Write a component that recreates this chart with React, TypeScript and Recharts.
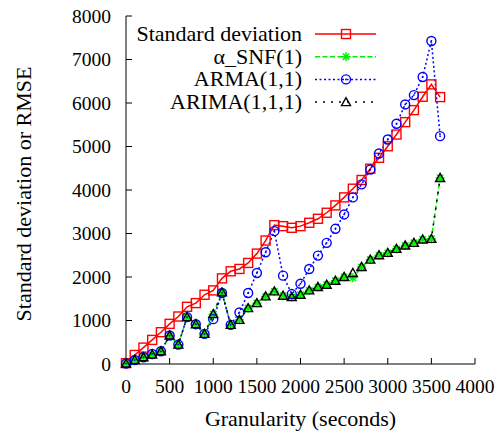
import { LineChart, Line, XAxis, YAxis, Legend } from 'recharts';

// Granularity (seconds) on the x axis
const granularity = [0, 100, 200, 300, 400, 500, 600, 700, 800, 900, 1000, 1100, 1200, 1300, 1400, 1500, 1600, 1700, 1800, 1900, 2000, 2100, 2200, 2300, 2400, 2500, 2600, 2700, 2800, 2900, 3000, 3100, 3200, 3300, 3400, 3500, 3600];

const stdDev = [20, 208, 377, 554, 731, 923, 1092, 1315, 1400, 1592, 1692, 1969, 2131, 2185, 2323, 2538, 2838, 3192, 3169, 3131, 3169, 3246, 3338, 3477, 3646, 3830, 4030, 4230, 4490, 4740, 5005, 5275, 5560, 5836, 6144, 6428, 6136];
const alphaSnf = [10, 92, 154, 215, 292, 654, 446, 1077, 915, 692, 1146, 1646, 900, 1015, 1285, 1400, 1554, 1669, 1569, 1538, 1592, 1692, 1769, 1823, 1915, 2000, 1980, 2231, 2400, 2500, 2554, 2646, 2723, 2785, 2862, 2877, 4277];
const arma = [10, 92, 154, 231, 292, 654, 446, 1077, 915, 692, 1031, 1631, 900, 1185, 1631, 2092, 2569, 3054, 2031, 1608, 1846, 2185, 2492, 2785, 3108, 3438, 3830, 4130, 4470, 4838, 5161, 5522, 5967, 6182, 6597, 7426, 5238];
const arima = [10, 92, 154, 215, 292, 654, 446, 1077, 915, 692, 1146, 1646, 900, 1015, 1285, 1400, 1554, 1669, 1569, 1538, 1592, 1692, 1769, 1823, 1915, 2000, 2092, 2231, 2400, 2500, 2554, 2646, 2723, 2785, 2862, 2877, 4277];

const xTicks = [0, 500, 1000, 1500, 2000, 2500, 3000, 3500, 4000];
const yTicks = [0, 1000, 2000, 3000, 4000, 5000, 6000, 7000, 8000];

const seriesNames = ['Standard deviation', 'α_SNF(1)', 'ARMA(1,1)', 'ARIMA(1,1,1)'];
const xLabel = 'Granularity (seconds)';
const yLabel = 'Standard deviation or RMSE';

const data = granularity.map((g, i) => ({
  g,
  std: stdDev[i],
  snf: alphaSnf[i],
  arma: arma[i],
  arima: arima[i],
}));

const FONT = 'Liberation Serif, serif';
const FS = 22;
const TICK_FS = 19.5;
const RED = '#ff0000';
const GREEN = '#00ee00';
const BLUE = '#0000ff';

// point markers (gnuplot style)
const Square = ({ cx, cy }: any) => (
  <rect x={cx - 4.5} y={cy - 4.5} width={9} height={9} fill="none" stroke={RED} strokeWidth={1.4} />
);
const Star = ({ cx, cy }: any) => (
  <g stroke={GREEN} strokeWidth={1.5}>
    <line x1={cx - 4.5} y1={cy} x2={cx + 4.5} y2={cy} />
    <line x1={cx} y1={cy - 4.5} x2={cx} y2={cy + 4.5} />
    <line x1={cx - 3.2} y1={cy - 3.2} x2={cx + 3.2} y2={cy + 3.2} />
    <line x1={cx - 3.2} y1={cy + 3.2} x2={cx + 3.2} y2={cy - 3.2} />
  </g>
);
const Circle = ({ cx, cy }: any) => (
  <g>
    <circle cx={cx} cy={cy} r={4.5} fill="none" stroke={BLUE} strokeWidth={1.4} />
    <circle cx={cx} cy={cy} r={0.9} fill={BLUE} />
  </g>
);
const Triangle = ({ cx, cy }: any) => (
  <path d={`M${cx - 4.5},${cy + 3.5} L${cx + 4.5},${cy + 3.5} L${cx},${cy - 4.5} Z`} fill="none" stroke="#000" strokeWidth={1.4} />
);

const dotOf = (Shape: any) => (props: any) => <Shape key={`d-${props.index}`} cx={props.cx} cy={props.cy} />;

// tick texts drawn by hand so the serif font sticks
const XTick = ({ x, y, payload }: any) => (
  <text x={x} y={y} dy={TICK_FS * 0.71} textAnchor="middle" style={{ fontFamily: FONT, fontSize: TICK_FS }} fill="#000">
    {payload.value}
  </text>
);
const YTick = ({ x, y, payload }: any) => (
  <text x={x} y={y} dy={TICK_FS * 0.34} textAnchor="end" style={{ fontFamily: FONT, fontSize: TICK_FS }} fill="#000">
    {payload.value}
  </text>
);
const XLabel = ({ viewBox }: any) => (
  <text x={viewBox.x + viewBox.width / 2} y={viewBox.y + viewBox.height - 6} textAnchor="middle" style={{ fontFamily: FONT, fontSize: FS }} fill="#000">
    {xLabel}
  </text>
);
const YLabel = ({ viewBox }: any) => {
  const cx = 31;
  const cy = viewBox.y + viewBox.height / 2 + 4;
  return (
    <text x={cx} y={cy} transform={`rotate(-90, ${cx}, ${cy})`} textAnchor="middle" style={{ fontFamily: FONT, fontSize: FS }} fill="#000">
      {yLabel}
    </text>
  );
};

const legendRows = [
  { name: seriesNames[0], color: RED, dash: undefined, width: 1.5, Shape: Square },
  { name: seriesNames[1], color: GREEN, dash: '5 2.5', width: 1.5, Shape: Star },
  { name: seriesNames[2], color: BLUE, dash: '2 2.5', width: 1.5, Shape: Circle },
  { name: seriesNames[3], color: '#000', dash: '2 6', width: 1.5, Shape: Triangle },
];

const KeyBox = () => (
  <svg width={270} height={100} style={{ display: 'block' }}>
    {legendRows.map((r, i) => {
      const y = 14 + i * 22.7;
      return (
        <g key={r.name}>
          <text x={182} y={y + 7} textAnchor="end" style={{ fontFamily: FONT, fontSize: FS }} fill="#000">
            {r.name}
          </text>
          <line x1={195} x2={256} y1={y} y2={y} stroke={r.color} strokeWidth={r.width} strokeDasharray={r.dash} />
          <r.Shape cx={226} cy={y} />
        </g>
      );
    })}
  </svg>
);

export default function App() {
  const line = { stroke: '#000', strokeWidth: 1 };
  return (
    <div style={{ position: 'absolute', left: 0, top: 0, background: '#fff', fontFamily: FONT }}>
      <LineChart width={498} height={432} data={data} margin={{ top: 16, right: 23, bottom: 0, left: 0 }}>
        <XAxis
          dataKey="g"
          type="number"
          domain={[0, 4000]}
          ticks={xTicks}
          interval={0}
          height={68}
          axisLine={line}
          tickLine={line}
          tickSize={-6}
          tickMargin={21}
          tick={<XTick />}
          label={<XLabel />}
        />
        <XAxis xAxisId="top" orientation="top" type="number" domain={[0, 4000]} ticks={xTicks} height={0} axisLine={line} tickLine={line} tickSize={-6} tick={false} />
        <YAxis
          type="number"
          domain={[0, 8000]}
          ticks={yTicks}
          interval={0}
          width={126}
          axisLine={line}
          tickLine={line}
          tickSize={-6}
          tickMargin={21}
          tick={<YTick />}
          label={<YLabel />}
        />
        <YAxis yAxisId="right" orientation="right" type="number" domain={[0, 8000]} ticks={yTicks} width={0} axisLine={line} tickLine={line} tickSize={-6} tick={false} />
        <Legend layout="vertical" align="center" verticalAlign="middle" content={() => <KeyBox />} wrapperStyle={{ left: 120, top: 20, width: 270 }} />
        <Line dataKey="std" name={seriesNames[0]} stroke={RED} strokeWidth={1.5} dot={dotOf(Square)} activeDot={false} isAnimationActive={false} />
        <Line dataKey="snf" name={seriesNames[1]} stroke={GREEN} strokeWidth={1.5} strokeDasharray="5 2.5" dot={dotOf(Star)} activeDot={false} isAnimationActive={false} />
        <Line dataKey="arma" name={seriesNames[2]} stroke={BLUE} strokeWidth={1.5} strokeDasharray="2 2.5" dot={dotOf(Circle)} activeDot={false} isAnimationActive={false} />
        <Line dataKey="arima" name={seriesNames[3]} stroke="#000" strokeWidth={1.5} strokeDasharray="2 6" dot={dotOf(Triangle)} activeDot={false} isAnimationActive={false} />
      </LineChart>
    </div>
  );
}
